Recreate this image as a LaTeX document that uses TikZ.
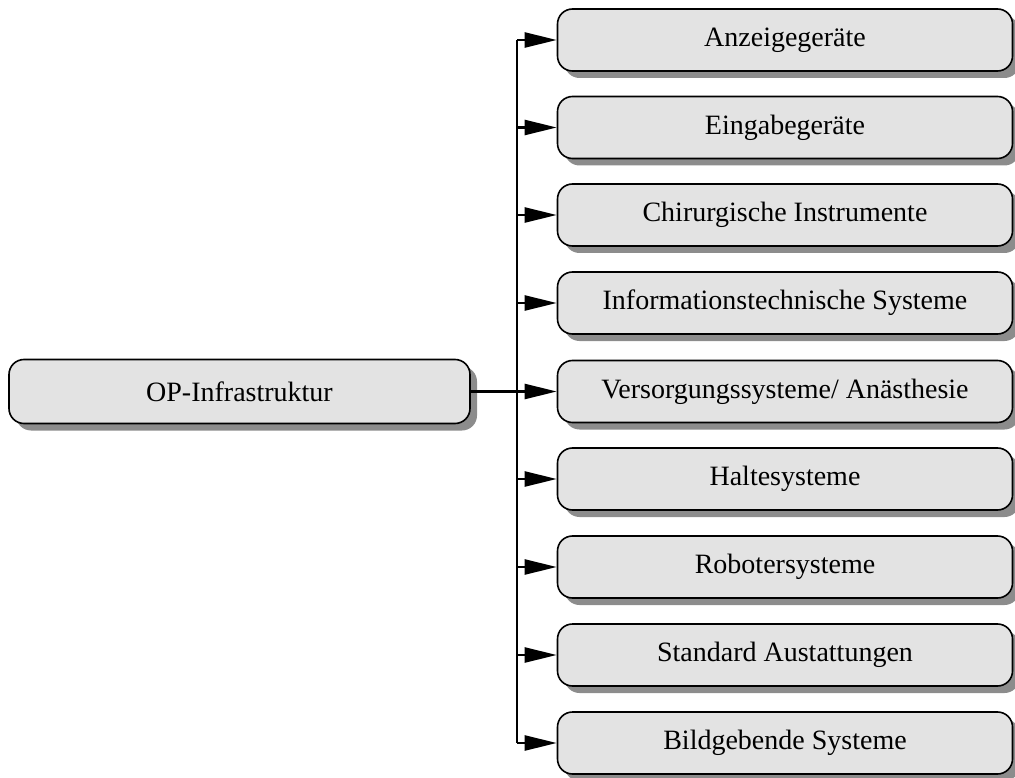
\documentclass[tikz,border=0pt]{standalone}
\usepackage{fontspec}
\setmainfont{Liberation Serif}
\usetikzlibrary{arrows.meta,shadows}
\begin{document}
\begin{tikzpicture}[x=1pt,y=-1pt,
  box/.style={draw=black, line width=1.6pt, fill=black!11, rounded corners=15pt,
    minimum width=455pt, minimum height=62pt, inner sep=0pt,
    font=\fontsize{28}{33}\selectfont,
    drop shadow={shadow xshift=7pt, shadow yshift=-7pt, fill=black!45, opacity=1}},
  link/.style={line width=2.4pt},
  arr/.style={line width=2.4pt, -{Triangle[length=32pt,width=15pt]}}]
  \useasboundingbox (0,0) rectangle (1015,778);

  % root of the tree
  \node[box, minimum width=461pt, minimum height=64pt] (root) at (239.5,391.5) {OP-Infrastruktur};

  % branches
  \foreach \i/\y/\t in {1/40/{Anzeigegeräte}, 2/127.5/{Eingabegeräte},
      3/215/{Chirurgische Instrumente}, 4/303/{Informationstechnische Systeme},
      5/391.5/{Versorgungssysteme/ Anästhesie}, 6/479/{Haltesysteme},
      7/567/{Robotersysteme}, 8/655/{Standard Austattungen},
      9/743/{Bildgebende Systeme}} {
    \node[box] (r\i) at (785,\y) {\t};
    \coordinate (b\i) at (517,\y);
  }

  % bus and connectors
  \coordinate (j) at (517,391.5);
  \draw[link] (root.east) -- (j);
  \draw[link] (b1) -- (b9);
  \foreach \i in {1,...,9} \draw[arr] (b\i) -- (r\i.west);
\end{tikzpicture}
\end{document}
